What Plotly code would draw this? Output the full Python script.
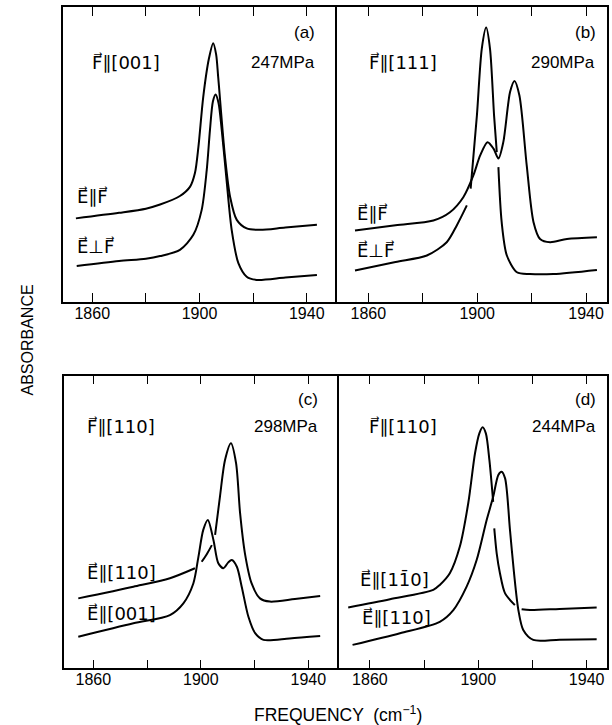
import plotly.graph_objects as go

# ---------------- data (frequency in cm^-1, absorbance in arbitrary units) -------------
# Panel (a): F || [001], 247 MPa
a_par_f = [1853.9, 1870, 1880, 1885.3, 1892.7, 1896.5, 1898.3, 1899.6, 1901.4, 1903.5,
           1905.1, 1906.2, 1907.0, 1909.5, 1911.4, 1913.9, 1917.6, 1922.6, 1932, 1943.8]
a_par_v = [28.3, 30.2, 31.6, 33.0, 35.9, 39.1, 43.7, 52.6, 69.6, 82.5,
           87.8, 84.0, 76.0, 49.3, 35.7, 27.8, 24.9, 24.4, 25.2, 26.1]
a_perp_f = [1854.2, 1870, 1880, 1885.3, 1892.7, 1897.7, 1900.8, 1902.7, 1903.9, 1905.0,
            1906.0, 1907.1, 1908.3, 1910.1, 1912.0, 1914.5, 1917.6, 1921.3, 1932, 1943.8]
a_perp_v = [12.1, 13.8, 14.6, 15.5, 17.6, 22.7, 31.1, 44.7, 58.3, 68.0,
            70.4, 67.5, 58.3, 41.3, 24.4, 13.1, 8.5, 7.4, 8.2, 9.1]

# Panel (b): F || [111], 290 MPa
b_par_f = [1855.1, 1870, 1883.9, 1890.0, 1894.9, 1898.6, 1901.1, 1903.8, 1906.0, 1907.8,
           1909.6, 1912.1, 1913.7, 1915.5, 1918.2, 1920.7, 1923.1, 1926.8, 1933, 1944]
b_par_v = [24.2, 26.0, 27.6, 30.4, 35.5, 42.9, 49.7, 54.2, 52.0, 48.6,
           54.2, 71.3, 75.0, 70.1, 46.3, 27.0, 21.3, 20.2, 21.3, 21.9]
b_perp_f = [1855.1, 1870, 1881.5, 1888.8, 1892.5, 1896.2, None,
            1897.6, 1899.9, 1901.7, 1903.3, 1904.7, 1906.2, 1907.2, None,
            1907.8, 1909.0, 1910.9, 1914.6, 1919.4, 1928, 1944]
b_perp_v = [10.6, 13.5, 15.7, 20.2, 25.9, 32.7, None,
            38.4, 63.3, 86.0, 93.1, 86.0, 63.3, 50.8, None,
            45.7, 27.0, 15.7, 10.0, 9.4, 9.4, 10.8]

# Panel (c): F || [110], 298 MPa
c_110_f = [1854.4, 1874.9, 1888.5, 1897.8, None,
           1900.3, 1902.2, 1904.1, None,
           1905.3, 1907.1, 1909.0, 1911.2, 1913.1, 1914.6, 1916.4, 1918.9, 1922.0, 1925.7,
           1935, 1944.4]
c_110_v = [23.9, 27.9, 30.8, 34.2, None,
           36.4, 39.0, 42.1, None,
           45.6, 58.6, 71.2, 76.9, 70.1, 53.0, 39.3, 29.0, 23.9, 22.8,
           23.7, 24.7]
c_001_f = [1854.4, 1874.9, 1888.5, 1893.5, 1897.2, 1899.1, 1900.9, 1902.6, 1904.7, 1906.5,
           1908.4, 1910.2, 1911.5, 1913.4, 1915.2, 1917.7, 1920.2, 1923.3, 1933, 1944.4]
c_001_v = [10.8, 15.4, 18.2, 22.2, 29.0, 38.1, 47.3, 50.7, 43.8, 35.9,
           34.2, 36.2, 37.0, 34.7, 27.9, 17.6, 12.0, 9.7, 10.2, 11.0]

# Panel (d): F || [110], 244 MPa
d_1m10_f = [1852.0, 1867.4, 1883.4, 1885.8, 1889.5, 1893.2, 1896.3, 1898.8, 1900.4, 1901.6,
            1902.8, 1904.1, 1905.5, None,
            1905.9, 1906.8, 1908.0, 1909.9, 1913.5, None,
            1916.0, 1919.1, 1930, 1943.7]
d_1m10_v = [20.8, 23.6, 26.8, 28.5, 32.5, 41.6, 56.4, 73.5, 80.3, 82.4,
            80.3, 71.2, 56.9, None,
            47.8, 39.3, 32.5, 25.6, 21.6, None,
            20.2, 19.9, 20.3, 20.8]
d_110_f = [1853.6, 1871.1, 1885.8, 1890.8, 1895.7, 1899.4, 1903.1, 1905.5, 1907.4, 1908.6,
           1909.9, 1911.7, 1913.2, 1914.8, 1916.6, 1920.3, 1930, 1943.7]
d_110_v = [8.0, 12.0, 15.9, 19.9, 27.9, 37.0, 50.7, 58.6, 66.1, 67.2,
           64.9, 47.3, 32.5, 19.9, 13.1, 9.7, 9.8, 9.9]

major_ticks = [1860, 1900, 1940]
tick_text = ["1860", "1900", "1940"]
minor_ticks = [1880, 1920]

panel_letters = ["(a)", "(b)", "(c)", "(d)"]
panel_force = ["F\u20d7\u2225[001]", "F\u20d7\u2225[111]", "F\u20d7\u2225[110]", "F\u20d7\u2225[110]"]
panel_stress = ["247MPa", "290MPa", "298MPa", "244MPa"]
curve_labels = [["E\u20d7\u2225F\u20d7", "E\u20d7\u22a5F\u20d7"],
                ["E\u20d7\u2225F\u20d7", "E\u20d7\u22a5F\u20d7"],
                ["E\u20d7\u2225[110]", "E\u20d7\u2225[001]"],
                ["E\u20d7\u2225[11\u03040]", "E\u20d7\u2225[110]"]]

# ---------------- figure -------------
FONT = "Liberation Sans, Arial, sans-serif"
SYMFONT = "DejaVu Sans"
W, H = 612, 725

def px_x(p):
    return p / W

def px_y(p):
    return 1 - p / H

# panel geometry (pixels); right-hand panels draw the shared vertical border
panels = [
    dict(x0=63.3, x1=337.3, y0=7.3, y1=301.7, xr=[1849.2, 1951.4], mirror=False),
    dict(x0=337.3, x1=607.0, y0=7.3, y1=301.7, xr=[1848.6, 1947.7], mirror=True),
    dict(x0=64.3, x1=339.0, y0=375.7, y1=668.3, xr=[1849.2, 1951.4], mirror=False),
    dict(x0=339.0, x1=606.7, y0=375.7, y1=668.3, xr=[1848.6, 1947.4], mirror=True),
]

series = [
    [(a_par_f, a_par_v), (a_perp_f, a_perp_v)],
    [(b_par_f, b_par_v), (b_perp_f, b_perp_v)],
    [(c_110_f, c_110_v), (c_001_f, c_001_v)],
    [(d_1m10_f, d_1m10_v), (d_110_f, d_110_v)],
]

fig = go.Figure()
layout = dict(
    width=W, height=H,
    margin=dict(l=0, r=0, t=0, b=0),
    paper_bgcolor="white", plot_bgcolor="white",
    showlegend=False,
    font=dict(family=FONT, color="black"),
)
annotations = []

letter_pos = [(1944.0, 91.6), (1944.4, 91.6), (1944.4, 91.7), (1944.2, 91.7)]
force_pos = [(1859.1, 81.4), (1859.5, 81.4), (1856.9, 82.5), (1858.9, 82.5)]
stress_pos = [(1944.0, 81.4), (1944.1, 81.4), (1944.4, 82.5), (1944.2, 82.5)]
lab1_pos = [(1853.4, 35.6), (1855.1, 30.0), (1856.9, 32.6), (1855.6, 30.2)]
lab2_pos = [(1853.4, 18.6), (1855.1, 17.4), (1856.9, 18.9), (1856.3, 17.2)]

for i, p in enumerate(panels):
    n = "" if i == 0 else str(i + 1)
    xa, ya = "x" + n, "y" + n
    for fx, vy in series[i]:
        fig.add_trace(go.Scatter(x=fx, y=vy, mode="lines", xaxis=xa, yaxis=ya,
                                 line=dict(color="black", width=2, shape="spline", smoothing=0.8),
                                 connectgaps=False, hoverinfo="skip"))
    layout["xaxis" + n] = dict(
        domain=[px_x(p["x0"]), px_x(p["x1"])], range=p["xr"], anchor=ya,
        tickmode="array", tickvals=major_ticks, ticktext=tick_text,
        ticks="inside", ticklen=9, tickwidth=1.3, tickcolor="black",
        minor=dict(tickmode="array", tickvals=minor_ticks, ticks="inside", ticklen=9,
                   tickwidth=1.3, tickcolor="black", showgrid=False),
        ticklabelstandoff=-4,
        showline=True, linecolor="black", linewidth=1.5, mirror="ticks",
        showgrid=False, zeroline=False, tickfont=dict(size=16, family=FONT, color="black"),
    )
    layout["yaxis" + n] = dict(
        domain=[px_y(p["y1"]), px_y(p["y0"])], range=[0, 100], anchor=xa,
        showline=True, linecolor="black", linewidth=1.5, mirror=p["mirror"],
        showticklabels=False, ticks="", showgrid=False, zeroline=False,
    )
    common = dict(xref=xa, yref=ya, showarrow=False, yanchor="middle")
    txtfont = dict(size=17, family=FONT, color="black")
    symfont = dict(size=18, family=SYMFONT, color="black")
    annotations.append(dict(text=panel_letters[i], x=letter_pos[i][0], y=letter_pos[i][1],
                            xanchor="right", font=txtfont, **common))
    annotations.append(dict(text=panel_force[i], x=force_pos[i][0], y=force_pos[i][1],
                            xanchor="left", font=symfont, **common))
    annotations.append(dict(text=panel_stress[i], x=stress_pos[i][0], y=stress_pos[i][1],
                            xanchor="right", font=txtfont, **common))
    annotations.append(dict(text=curve_labels[i][0], x=lab1_pos[i][0], y=lab1_pos[i][1],
                            xanchor="left", font=symfont, **common))
    annotations.append(dict(text=curve_labels[i][1], x=lab2_pos[i][0], y=lab2_pos[i][1],
                            xanchor="left", font=symfont, **common))

annotations.append(dict(text="ABSORBANCE", xref="paper", yref="paper",
                        x=px_x(26.5), y=px_y(340), textangle=-90, showarrow=False,
                        xanchor="center", yanchor="middle",
                        font=dict(size=16, family=FONT, color="black")))
annotations.append(dict(text="FREQUENCY  (cm<sup>\u22121</sup>)", xref="paper", yref="paper",
                        x=px_x(338), y=px_y(714), showarrow=False,
                        xanchor="center", yanchor="middle",
                        font=dict(size=17.5, family=FONT, color="black")))
layout["annotations"] = annotations
fig.update_layout(**layout)
fig.write_html("out.html", config={"displayModeBar": False},
               post_script="document.body.style.margin='0';document.body.style.overflow='hidden';")
